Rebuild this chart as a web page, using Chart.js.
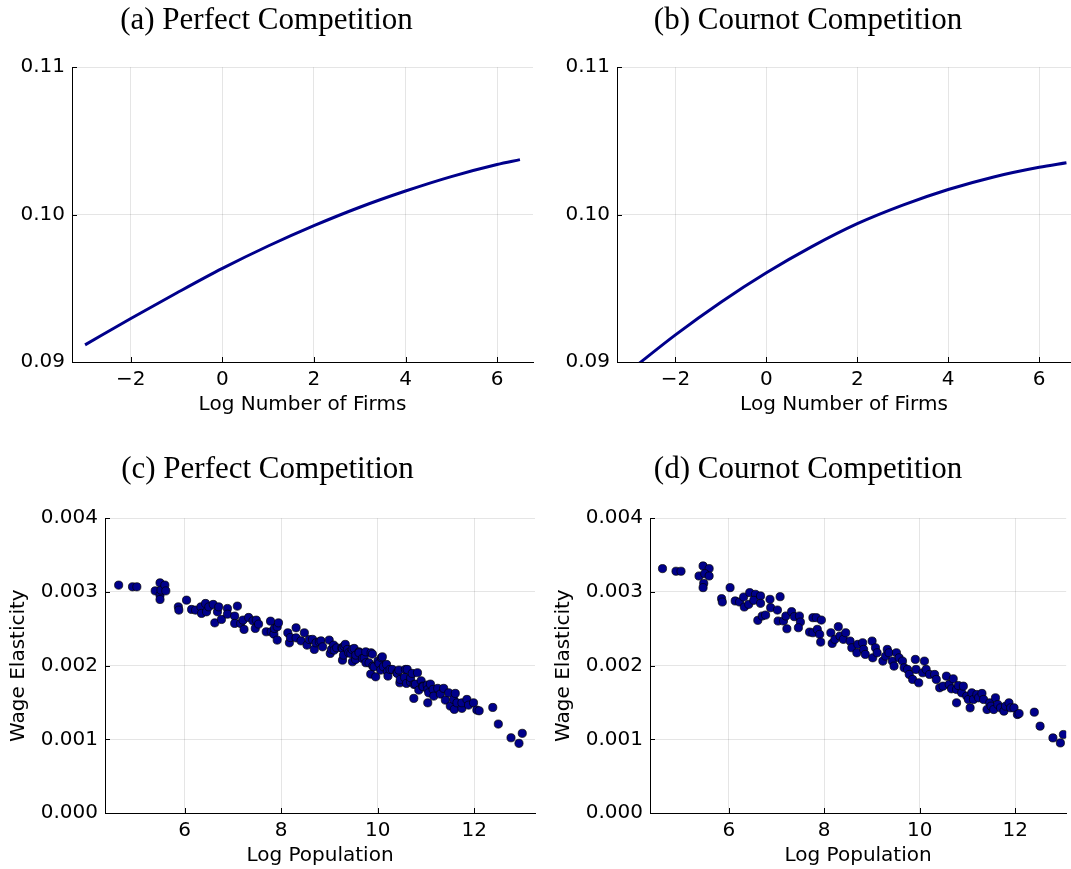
<!DOCTYPE html>
<html>
<head>
<meta charset="utf-8">
<script src="https://cdn.jsdelivr.net/npm/chart.js@4.4.0/dist/chart.umd.min.js"></script>
<style>
  html, body { margin: 0; padding: 0; background: #fff; overflow: hidden; }
  canvas { position: absolute; }
</style>
</head>
<body>
<canvas id="chart-a" width="540" height="420" style="left:0px;top:0px"></canvas>
<canvas id="chart-b" width="526" height="420" style="left:545px;top:0px"></canvas>
<canvas id="chart-c" width="540" height="434" style="left:0px;top:435px"></canvas>
<canvas id="chart-d" width="526" height="434" style="left:545px;top:435px"></canvas>
<script>
// Top row: log number of firms vs curve value
const firmsPerfect = [-3, -2, -1, 0, 1, 2, 3, 4, 5, 6, 6.5];
const valuePerfect = [0.09116, 0.09295, 0.09468, 0.09635, 0.09787, 0.09925, 0.10050, 0.10160, 0.10258, 0.10340, 0.10373];
const firmsCournot = [-3, -2, -1, 0, 1, 2, 3, 4, 5, 6, 6.6];
const valueCournot = [0.08941, 0.09184, 0.094055, 0.09605, 0.097825, 0.09938, 0.10064, 0.1017, 0.102555, 0.10321, 0.10352];

// Bottom row: log population vs wage elasticity (one point per city)
const popPerfect = [4.633, 4.92, 5.01, 5.39, 5.49, 5.49, 5.49, 5.51, 5.59, 5.61, 5.87, 5.88, 6.04, 6.144, 6.227, 6.337, 6.35, 6.433, 6.454, 6.501,
  6.592, 6.625, 6.68, 6.707, 6.763, 6.887, 6.887, 7.037, 7.037, 7.093, 7.161, 7.21, 7.231, 7.326, 7.416, 7.464, 7.485, 7.532, 7.691, 7.78,
  7.794, 7.849, 7.862, 7.918, 7.918, 7.945, 8.138, 8.171, 8.192, 8.309, 8.309, 8.412, 8.481, 8.536, 8.584, 8.651, 8.687, 8.722, 8.79, 8.825,
  8.859, 8.996, 9.017, 9.043, 9.087, 9.099, 9.15, 9.257, 9.271, 9.271, 9.292, 9.305, 9.329, 9.375, 9.4, 9.443, 9.471, 9.478, 9.512, 9.542,
  9.546, 9.614, 9.614, 9.684, 9.721, 9.753, 9.756, 9.821, 9.856, 9.863, 9.891, 9.899, 9.924, 9.959, 10.006, 10.027, 10.062, 10.077, 10.097, 10.118,
  10.184, 10.2, 10.213, 10.255, 10.303, 10.398, 10.406, 10.44, 10.46, 10.469, 10.557, 10.576, 10.598, 10.612, 10.68, 10.683, 10.715, 10.749, 10.754, 10.784,
  10.825, 10.852, 10.901, 10.932, 10.942, 11.025, 11.038, 11.039, 11.058, 11.093, 11.148, 11.162, 11.244, 11.299, 11.368, 11.402, 11.471, 11.505, 11.574, 11.588,
  11.608, 11.643, 11.746, 11.746, 11.849, 11.883, 11.986, 12.055, 12.103, 12.385, 12.5, 12.763, 12.928, 12.996];
const elasPerfect = [0.003092, 0.003069, 0.003069, 0.003014, 0.003123, 0.002956, 0.002897, 0.003024, 0.003092, 0.003014, 0.002797, 0.002753, 0.002888, 0.002762, 0.002753, 0.002797, 0.002708, 0.002843, 0.00273, 0.002797,
  0.00283, 0.00258, 0.00273, 0.002797, 0.002626, 0.002775, 0.002698, 0.002671, 0.002572, 0.002807, 0.002572, 0.002617, 0.002491, 0.002653, 0.002608, 0.002504, 0.002617, 0.002563, 0.002459, 0.002603,
  0.002459, 0.002427, 0.002504, 0.002526, 0.002346, 0.00258, 0.002445, 0.002309, 0.002381, 0.002513, 0.002377, 0.002336, 0.002445, 0.002278, 0.002354, 0.002356, 0.002219, 0.002309, 0.002323, 0.002336,
  0.002255, 0.002346, 0.002165, 0.00222, 0.002278, 0.00221, 0.002242, 0.002242, 0.002233, 0.002074, 0.002142, 0.002264, 0.002288, 0.002219, 0.002174, 0.002165, 0.00222, 0.002052, 0.002233, 0.002084,
  0.002142, 0.002187, 0.002174, 0.002098, 0.002106, 0.002187, 0.002039, 0.002038, 0.001885, 0.002174, 0.002156, 0.001993, 0.001984, 0.001848, 0.002061, 0.002029, 0.001939, 0.002106, 0.002119, 0.001984,
  0.002016, 0.001917, 0.001858, 0.001948, 0.001948, 0.001903, 0.001894, 0.001939, 0.001767, 0.001812, 0.001839, 0.001948, 0.001758, 0.001948, 0.00178, 0.001835, 0.001894, 0.001555, 0.001744, 0.001749,
  0.001903, 0.001668, 0.001794, 0.001721, 0.001713, 0.001736, 0.001495, 0.001676, 0.001631, 0.001749, 0.001677, 0.001586, 0.001691, 0.001614, 0.001691, 0.001532, 0.001631, 0.001451, 0.001541, 0.001406,
  0.001623, 0.001495, 0.00142, 0.001495, 0.001541, 0.001464, 0.001495, 0.001396, 0.001387, 0.001432, 0.001207, 0.001021, 0.000945, 0.001081];

const popCournot = [4.612, 4.895, 5.0, 5.377, 5.462, 5.589, 5.497, 5.589, 5.476, 5.462, 5.85, 5.865, 6.028, 6.135, 6.227, 6.312, 6.326, 6.418, 6.439, 6.56,
  6.524, 6.666, 6.666, 6.609, 6.701, 6.772, 6.864, 6.878, 7.076, 7.02, 7.034, 7.147, 7.197, 7.218, 7.317, 7.374, 7.48, 7.501, 7.459, 7.763,
  7.834, 7.94, 7.693, 7.763, 7.855, 7.905, 7.926, 8.139, 8.167, 8.224, 8.295, 8.33, 8.401, 8.45, 8.542, 8.578, 8.684, 8.705, 8.805, 8.826,
  8.861, 9.003, 9.017, 9.074, 9.109, 9.229, 9.286, 9.321, 9.357, 9.428, 9.463, 9.513, 9.569, 9.64, 9.676, 9.746, 9.782, 9.853, 9.909, 9.924,
  9.98, 10.065, 10.1, 10.136, 10.207, 10.313, 10.348, 10.419, 10.49, 10.561, 10.618, 10.667, 10.703, 10.773, 10.773, 10.809, 10.88, 10.915, 10.986, 11.021,
  11.057, 11.092, 11.127, 11.198, 11.234, 11.305, 11.34, 11.411, 11.467, 11.496, 11.552, 11.588, 11.637, 11.694, 11.765, 11.8, 11.871, 11.906, 11.977, 12.048,
  12.083, 12.402, 12.523, 12.792, 12.948, 13.011];
const elasCournot = [0.003316, 0.00328, 0.00328, 0.003216, 0.003352, 0.003316, 0.003248, 0.003216, 0.003117, 0.003058, 0.002908, 0.002863, 0.003058, 0.002877, 0.002863, 0.002931, 0.002795, 0.002831, 0.00299, 0.002967,
  0.002886, 0.002945, 0.002845, 0.002614, 0.002673, 0.002686, 0.002899, 0.002786, 0.002935, 0.002754, 0.002605, 0.002605, 0.002673, 0.0025, 0.002732, 0.002664, 0.002673, 0.002591, 0.002514, 0.00265,
  0.00265, 0.002618, 0.002455, 0.002446, 0.002492, 0.002424, 0.002319, 0.002446, 0.002301, 0.002356, 0.002528, 0.002401, 0.002356, 0.002446, 0.002333, 0.002242, 0.002174, 0.002288, 0.00231, 0.00222,
  0.002152, 0.002333, 0.002106, 0.002242, 0.002174, 0.002061, 0.002129, 0.00222, 0.002174, 0.002061, 0.001993, 0.002174, 0.002106, 0.002061, 0.001971, 0.001948, 0.00188, 0.001812, 0.002084, 0.001948,
  0.001767, 0.001903, 0.002061, 0.001948, 0.00188, 0.00188, 0.001812, 0.001699, 0.001721, 0.001857, 0.001744, 0.001685, 0.001821, 0.001676, 0.001495, 0.00173, 0.001631, 0.001721, 0.001586, 0.00154,
  0.001427, 0.001631, 0.00154, 0.001608, 0.001563, 0.001622, 0.00154, 0.001404, 0.001495, 0.00145, 0.001404, 0.001563, 0.001472, 0.001427, 0.001382, 0.00145, 0.001495, 0.001427, 0.001427, 0.001336,
  0.00135, 0.001368, 0.001178, 0.001019, 0.000951, 0.001065];

// Tick labels
const firmsTicks = [-2, 0, 2, 4, 6];
const valueTicks = [0.09, 0.10, 0.11];
const popTicks = [6, 8, 10, 12];
const elasTicks = [0, 0.001, 0.002, 0.003, 0.004];

const navy = '#00008B';
const gridColor = 'rgba(0, 0, 0, 0.1)';

Chart.defaults.font.family = "'DejaVu Sans', sans-serif";
Chart.defaults.font.size = 20;
Chart.defaults.color = '#000';

// small inward tick marks on both axes
const innerTicks = {
    id: 'innerTicks',
    afterDraw(chart) {
        const ctx = chart.ctx;
        const xs = chart.scales.x, ys = chart.scales.y;
        ctx.save();
        ctx.strokeStyle = '#000';
        ctx.lineWidth = 1;
        ctx.beginPath();
        xs.ticks.forEach(t => {
            const px = Math.round(xs.getPixelForValue(t.value)) + 0.5;
            ctx.moveTo(px, ys.bottom);
            ctx.lineTo(px, ys.bottom - 5);
        });
        ys.ticks.forEach(t => {
            const py = Math.round(ys.getPixelForValue(t.value)) + 0.5;
            ctx.moveTo(xs.left, py);
            ctx.lineTo(xs.left + 5, py);
        });
        ctx.stroke();
        ctx.restore();
    }
};

function toPoints(xs, ys) {
    return xs.map((x, i) => ({ x: x, y: ys[i] }));
}

function makeOptions(p) {
    return {
        responsive: false,
        animation: false,
        layout: { padding: { right: p.padRight } },
        plugins: {
            legend: { display: false },
            tooltip: { enabled: false },
            title: {
                display: true,
                text: p.title,
                color: '#000',
                font: { family: "'Liberation Serif', serif", size: 31, weight: 'normal' },
                padding: { top: p.titleTop, bottom: p.titleBottom }
            }
        },
        scales: {
            x: {
                type: 'linear',
                min: p.xMin,
                max: p.xMax,
                afterBuildTicks: s => { s.ticks = p.xTicks.map(v => ({ value: v })); },
                afterFit: s => { s.height = p.xHeight; },
                grid: { color: gridColor, drawTicks: false },
                border: { color: '#000', width: 1 },
                ticks: {
                    padding: 6,
                    callback: v => String(v).replace('-', '\u2212')
                },
                title: {
                    display: true,
                    text: p.xTitle,
                    padding: { top: 0, bottom: p.xTitleBottom }
                }
            },
            y: {
                min: p.yMin,
                max: p.yMax,
                afterBuildTicks: s => { s.ticks = p.yTicks.map(v => ({ value: v })); },
                afterFit: s => { s.width = p.yWidth; },
                grid: { color: gridColor, drawTicks: false },
                border: { color: '#000', width: 1 },
                ticks: {
                    padding: 7,
                    callback: v => v.toFixed(p.yDigits)
                },
                title: {
                    display: !!p.yTitle,
                    text: p.yTitle || '',
                    padding: { top: 7, bottom: 0 }
                }
            }
        }
    };
}

function createLineChart(id, xs, ys, p) {
    new Chart(document.getElementById(id), {
        type: 'line',
        data: {
            datasets: [{
                data: toPoints(xs, ys),
                borderColor: navy,
                borderWidth: 3,
                pointRadius: 0,
                cubicInterpolationMode: 'monotone',
                fill: false
            }]
        },
        options: makeOptions(p),
        plugins: [innerTicks]
    });
}

function createScatterChart(id, xs, ys, p) {
    new Chart(document.getElementById(id), {
        type: 'scatter',
        data: {
            datasets: [{
                data: toPoints(xs, ys),
                backgroundColor: navy,
                borderColor: '#000',
                borderWidth: 0.7,
                pointRadius: 4.1
            }]
        },
        options: makeOptions(p),
        plugins: [innerTicks]
    });
}

const topRow = {
    titleTop: 2, titleBottom: 28, xHeight: 58, xTitleBottom: 3,
    xTicks: firmsTicks, xTitle: 'Log Number of Firms', xMin: -3.285,
    yTicks: valueTicks, yMin: 0.09, yMax: 0.11, yDigits: 2, yWidth: 72
};
const bottomRow = {
    titleTop: 16, titleBottom: 30, xHeight: 56, xTitleBottom: 1,
    xTicks: popTicks, xTitle: 'Log Population', xMin: 4.35,
    yTicks: elasTicks, yMin: 0, yMax: 0.004, yDigits: 3, yWidth: 105, yTitle: 'Wage Elasticity'
};

createLineChart('chart-a', firmsPerfect, valuePerfect,
    Object.assign({}, topRow, { title: '(a) Perfect Competition', xMax: 6.785, padRight: 7 }));
createLineChart('chart-b', firmsCournot, valueCournot,
    Object.assign({}, topRow, { title: '(b) Cournot Competition', xMax: 6.7, padRight: 0 }));
createScatterChart('chart-c', popPerfect, elasPerfect,
    Object.assign({}, bottomRow, { title: '(c) Perfect Competition', xMax: 13.26, padRight: 5 }));
createScatterChart('chart-d', popCournot, elasCournot,
    Object.assign({}, bottomRow, { title: '(d) Cournot Competition', xMax: 13.07, padRight: 0 }));
</script>
</body>
</html>
